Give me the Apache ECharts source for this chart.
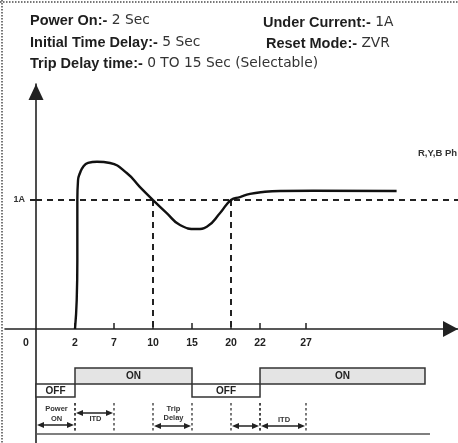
<!DOCTYPE html>
<html><head><meta charset="utf-8">
<script src="https://cdn.jsdelivr.net/npm/echarts@6/dist/echarts.min.js"></script>
<style>html,body{margin:0;padding:0;background:#fff}#c{width:458px;height:443px}</style>
</head><body><div id="c"></div>
<script>
// ---- data ----
const tickSeconds = [2, 7, 10, 15, 20, 22, 27];
const tickLabels = ['2', '7', '10', '15', '20', '22', '27'];
const curveSec = [2, 2.22, 2.3, 2.3, 2.39, 2.64, 3.03, 3.67, 4.82, 6.49, 7.98, 9.0, 10, 11.76, 13.46, 15.6, 16.9, 18.6, 20, 20.62, 21.31, 22.33, 24.17, 27.77, 36.9];
const curveAmp = [0, 0.225, 0.535, 1.0, 1.155, 1.209, 1.256, 1.287, 1.297, 1.287, 1.209, 1.10, 1.0, 0.899, 0.806, 0.775, 0.793, 0.899, 1.0, 1.023, 1.047, 1.062, 1.07, 1.072, 1.07];
const underCurrent = 1;
const crossSec = [10, 20];
const phaseStart = [0, 2, 15, 22];
const phaseEnd = [2, 15, 22, 40];
const phaseState = ['OFF', 'ON', 'OFF', 'ON'];
const intervalFrom = [0, 2, 10, 20, 22];
const intervalTo = [2, 7, 15, 22, 27];
const intervalName = ['Power\nON', 'ITD', 'Trip\nDelay', '', 'ITD'];
// schematic (not-to-scale) time axis anchors
const warpSec = [0, 2, 7, 10, 15, 20, 22, 27, 40];
const warpPos = [0, 1, 2, 3, 4, 5, 5.744, 6.923, 9.974];

function warp(s) {
  let i = 0;
  while (i < warpSec.length - 2 && s > warpSec[i + 1]) i++;
  const t = (s - warpSec[i]) / (warpSec[i + 1] - warpSec[i]);
  return warpPos[i] + t * (warpPos[i + 1] - warpPos[i]);
}
const tickPos = tickSeconds.map(warp);
const FONT = "'Liberation Sans', Arial, sans-serif";
const FONT_N = "'DejaVu Sans', 'Liberation Sans', sans-serif";

const chart = echarts.init(document.getElementById('c'), null, {renderer: 'canvas'});

const richHead = {
  b: {fontWeight: 'bold', fontSize: 14.5, fontFamily: FONT, color: '#1e1e1e'},
  n: {fontWeight: 'normal', fontSize: 13.8, fontFamily: FONT_N, color: '#333'}
};
function head(text, left, top) {
  return {text: text, left: left, top: top, padding: 0, textStyle: {fontWeight: 'normal', rich: richHead}};
}

const arrowDy = [96, 84, 97, 97, 97];
const labelDy = [85, 89.5, 84.5, 0, 91];

chart.setOption({
  animation: false,
  title: [
    head('{b|Power On:-}{n| 2 Sec}', 30, 13),
    head('{b|Initial Time Delay:-}{n| 5 Sec}', 30, 35),
    head('{b|Trip Delay time:-}{n| 0 TO 15 Sec (Selectable)}', 30, 56),
    head('{b|Under Current:-}{n| 1A}', 263, 15),
    head('{b|Reset Mode:-}{n| ZVR}', 266, 36),
    {text: 'R,Y,B Ph', left: 418, top: 148, padding: 0,
     textStyle: {fontSize: 9.5, fontWeight: 'bold', fontFamily: FONT, color: '#333'}}
  ],
  graphic: [
    {type: 'line', shape: {x1: 0, y1: 2, x2: 458, y2: 2}, style: {stroke: '#777', lineWidth: 2, lineDash: [1.5, 1.5]}},
    {type: 'line', shape: {x1: 2, y1: 0, x2: 2, y2: 443}, style: {stroke: '#777', lineWidth: 2, lineDash: [1.5, 1.5]}}
  ],
  grid: {left: 5, right: 0, top: 84, bottom: 0, containLabel: false, outerBoundsMode: 'none'},
  xAxis: {
    type: 'value', min: -31 / 39, max: 422 / 39, position: 'bottom', offset: -114,
    splitLine: {show: false},
    axisLine: {onZero: false, lineStyle: {color: '#222', width: 1.6},
      symbol: ['none', 'triangle'], symbolSize: [16, 15], symbolOffset: [0, -7.5]},
    axisTick: {show: true, inside: true, length: 6, customValues: tickPos, lineStyle: {color: '#222', width: 1.5}},
    axisLabel: {
      customValues: [0].concat(tickPos), margin: 9,
      color: '#222', fontSize: 10.5, fontWeight: 'bold', fontFamily: FONT,
      formatter: function (v) {
        if (Math.abs(v) < 1e-6) return '{z|0}';
        for (let i = 0; i < tickPos.length; i++) if (Math.abs(tickPos[i] - v) < 1e-6) return tickLabels[i];
        return '';
      },
      rich: {z: {padding: [0, 20, 0, 0], fontSize: 10.5, fontWeight: 'bold', fontFamily: FONT, color: '#222'}}
    }
  },
  yAxis: {
    type: 'value', min: -114 / 129, max: 245 / 129, position: 'left', offset: -31,
    splitLine: {show: false},
    axisLine: {onZero: false, lineStyle: {color: '#222', width: 1.6},
      symbol: ['none', 'triangle'], symbolSize: [15, 16], symbolOffset: [0, -8]},
    axisTick: {show: true, length: 6, customValues: [underCurrent], lineStyle: {color: '#222', width: 2}},
    axisLabel: {customValues: [underCurrent], margin: 11, formatter: function () { return underCurrent + 'A'; },
      color: '#333', fontSize: 9, fontWeight: 'bold', fontFamily: FONT}
  },
  series: [
    {
      name: 'R,Y,B Ph', type: 'line', smooth: 0.5, showSymbol: false,
      lineStyle: {color: '#111', width: 2.4},
      data: curveSec.map(function (s, i) { return [warp(s), curveAmp[i]]; }),
      markLine: {
        silent: true, symbol: 'none', label: {show: false},
        lineStyle: {color: '#222', width: 2, type: [6, 5]},
        data: [
          [{coord: [0, underCurrent]}, {coord: [422 / 39, underCurrent]}]
        ].concat(crossSec.map(function (s) { return [{coord: [warp(s), underCurrent]}, {coord: [warp(s), 0]}]; }))
      },
      z: 5
    },
    {
      name: 'state', type: 'custom',
      data: phaseStart.map(function (s, i) { return [warp(s), warp(phaseEnd[i]), 0]; }),
      encode: {x: [0, 1], y: 2},
      renderItem: function (params, api) {
        const p1 = api.coord([api.value(0), 0]);
        const p2 = api.coord([api.value(1), 0]);
        const y0 = p1[1];
        const st = phaseState[params.dataIndex];
        const on = st === 'ON';
        const top = on ? y0 + 39 : y0 + 55;
        const h = on ? 16 : 13;
        const last = params.dataIndex === phaseStart.length - 1;
        return {type: 'group', children: [
          {type: 'rect', shape: {x: p1[0], y: top, width: p2[0] - p1[0], height: h},
           style: {fill: on ? '#e4e4e4' : '#fff', stroke: '#333', lineWidth: 1.5}},
          {type: 'text', x: (p1[0] + p2[0]) / 2, y: top + h / 2 + 0.5,
           style: {text: st, textAlign: 'center', textVerticalAlign: 'middle', fontSize: 10, fontWeight: 'bold', fontFamily: FONT, fill: '#222'}},
          {type: 'line', shape: {x1: p1[0], y1: y0 + 105, x2: p2[0] + (last ? 5 : 0), y2: y0 + 105},
           style: {stroke: '#555', lineWidth: 1.6}}
        ]};
      }
    },
    {
      name: 'intervals', type: 'custom',
      data: intervalFrom.map(function (s, i) { return [warp(s), warp(intervalTo[i]), 0]; }),
      encode: {x: [0, 1], y: 2},
      renderItem: function (params, api) {
        const i = params.dataIndex;
        const a = api.coord([api.value(0), 0]);
        const b = api.coord([api.value(1), 0]);
        const y0 = a[1];
        const x1 = a[0] + 1, x2 = b[0] - 1;
        const ay = y0 + arrowDy[i];
        const ch = [];
        const dots = {stroke: '#333', lineWidth: 1.3, lineDash: [2.5, 2.5]};
        if (api.value(0) > 0) ch.push({type: 'line', shape: {x1: a[0], y1: y0 + 74, x2: a[0], y2: y0 + 103}, style: dots});
        ch.push({type: 'line', shape: {x1: b[0], y1: y0 + 74, x2: b[0], y2: y0 + 103}, style: dots});
        ch.push({type: 'line', shape: {x1: x1 + 4, y1: ay, x2: x2 - 4, y2: ay}, style: {stroke: '#222', lineWidth: 1.5}});
        ch.push({type: 'polygon', shape: {points: [[x1, ay], [x1 + 7, ay - 3], [x1 + 7, ay + 3]]}, style: {fill: '#222'}});
        ch.push({type: 'polygon', shape: {points: [[x2, ay], [x2 - 7, ay - 3], [x2 - 7, ay + 3]]}, style: {fill: '#222'}});
        if (intervalName[i]) {
          ch.push({type: 'text', x: (a[0] + b[0]) / 2 + 1, y: y0 + labelDy[i],
            style: {text: intervalName[i], textAlign: 'center', textVerticalAlign: 'middle', lineHeight: 9.5,
              fontSize: 7.5, fontWeight: 'bold', fontFamily: FONT, fill: '#333'}});
        }
        return {type: 'group', children: ch};
      }
    }
  ]
});
</script></body></html>
